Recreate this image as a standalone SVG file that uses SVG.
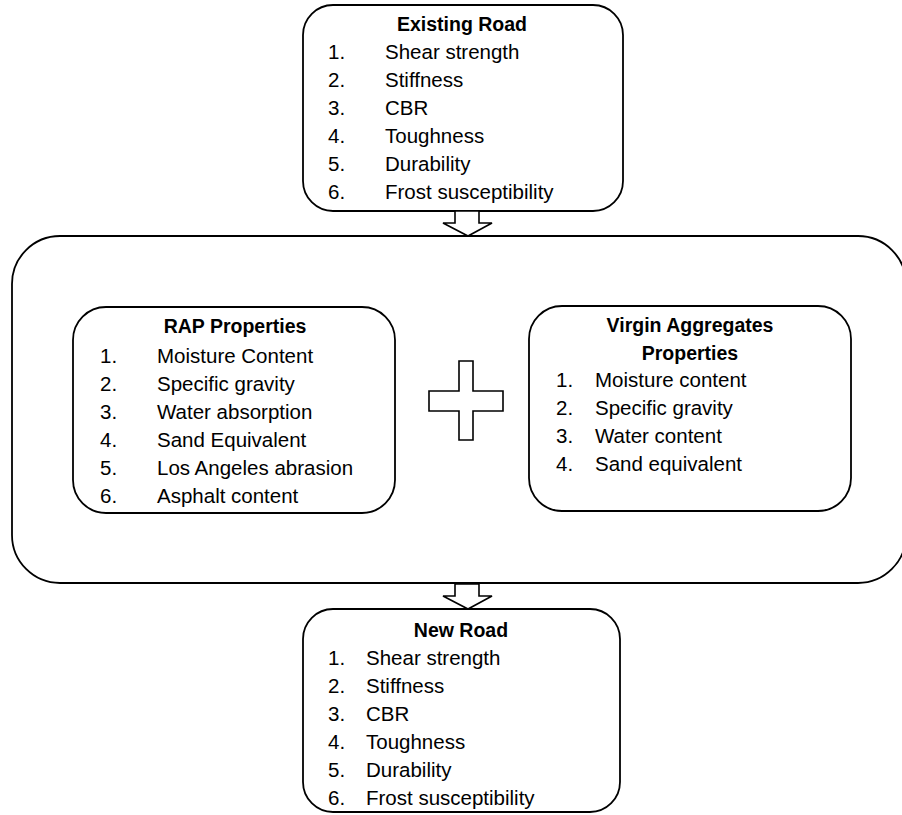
<svg xmlns="http://www.w3.org/2000/svg" width="902" height="815" viewBox="0 0 902 815">
<style>
.box{fill:#fff;stroke:#000;stroke-width:1.8}
.arrow{fill:#fff;stroke:#000;stroke-width:1.6;stroke-linejoin:miter}
text{font-family:"Liberation Sans",Arial,sans-serif;fill:#000}
.t{font-weight:bold;font-size:19.5px;text-anchor:middle}
.i{font-size:20.5px}
</style>
<rect width="902" height="815" fill="#fff"/>
<g id="combination">
<rect class="box" x="12" y="236" width="894" height="347" rx="48" ry="48"/>
</g>
<g id="existing-road">
<rect class="box" x="303" y="5" width="320" height="206" rx="30" ry="30"/>
<text class="t" x="462" y="31">Existing Road</text>
<g class="i">
<text class="i" x="328" y="59">1.</text><text class="i" x="385" y="59">Shear strength</text>
<text class="i" x="328" y="87">2.</text><text class="i" x="385" y="87">Stiffness</text>
<text class="i" x="328" y="115">3.</text><text class="i" x="385" y="115">CBR</text>
<text class="i" x="328" y="143">4.</text><text class="i" x="385" y="143">Toughness</text>
<text class="i" x="328" y="171">5.</text><text class="i" x="385" y="171">Durability</text>
<text class="i" x="328" y="199">6.</text><text class="i" x="385" y="199">Frost susceptibility</text>
</g>
</g>
<g id="rap-properties">
<rect class="box" x="73" y="307" width="322" height="206" rx="33" ry="33"/>
<text class="t" x="235" y="333">RAP Properties</text>
<text class="i" x="100" y="363">1.</text><text class="i" x="157" y="363">Moisture Content</text>
<text class="i" x="100" y="391">2.</text><text class="i" x="157" y="391">Specific gravity</text>
<text class="i" x="100" y="419">3.</text><text class="i" x="157" y="419">Water absorption</text>
<text class="i" x="100" y="447">4.</text><text class="i" x="157" y="447">Sand Equivalent</text>
<text class="i" x="100" y="475">5.</text><text class="i" x="157" y="475">Los Angeles abrasion</text>
<text class="i" x="100" y="503">6.</text><text class="i" x="157" y="503">Asphalt content</text>
</g>
<g id="plus">
<polygon class="arrow" points="459,361 473,361 473,391 503,391 503,411 473,411 473,440 459,440 459,411 429,411 429,391 459,391"/>
</g>
<g id="virgin-aggregates">
<rect class="box" x="529" y="306" width="322" height="205" rx="33" ry="33"/>
<text class="t" x="690" y="332">Virgin Aggregates</text>
<text class="t" x="690" y="360">Properties</text>
<text class="i" x="556" y="387">1.</text><text class="i" x="595" y="387">Moisture content</text>
<text class="i" x="556" y="415">2.</text><text class="i" x="595" y="415">Specific gravity</text>
<text class="i" x="556" y="443">3.</text><text class="i" x="595" y="443">Water content</text>
<text class="i" x="556" y="471">4.</text><text class="i" x="595" y="471">Sand equivalent</text>
</g>
<g id="new-road">
<rect class="box" x="303" y="609" width="317" height="203" rx="30" ry="30"/>
<text class="t" x="461" y="637">New Road</text>
<text class="i" x="328" y="665">1.</text><text class="i" x="366" y="665">Shear strength</text>
<text class="i" x="328" y="693">2.</text><text class="i" x="366" y="693">Stiffness</text>
<text class="i" x="328" y="721">3.</text><text class="i" x="366" y="721">CBR</text>
<text class="i" x="328" y="749">4.</text><text class="i" x="366" y="749">Toughness</text>
<text class="i" x="328" y="777">5.</text><text class="i" x="366" y="777">Durability</text>
<text class="i" x="328" y="805">6.</text><text class="i" x="366" y="805">Frost susceptibility</text>
</g>
<g id="connectors">
<polygon class="arrow" points="455,211 479,211 479,223 492,223 468,236 443,223 455,223"/>
<polygon class="arrow" points="455,584 479,584 479,596 492,596 468,609 443,596 455,596"/>
</g>
</svg>
